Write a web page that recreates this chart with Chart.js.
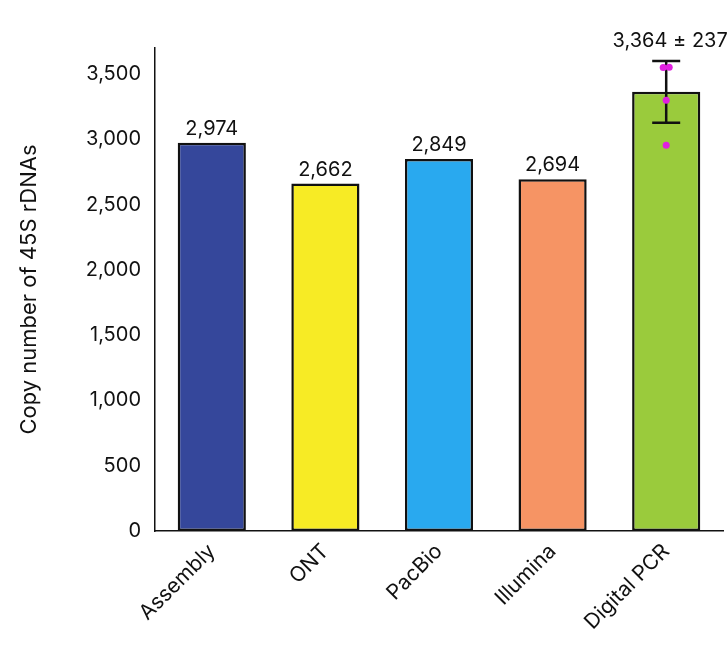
<!DOCTYPE html>
<html><head><meta charset="utf-8">
<script src="https://cdn.jsdelivr.net/npm/chart.js@4"></script>
<style>body{margin:0;background:#fff}#w{width:727px;height:663px}</style>
</head><body><div id="w"><canvas id="c"></canvas></div>
<script>
const categories=["Assembly","ONT","PacBio","Illumina","Digital PCR"];
const values=[2974,2662,2849,2694,3364];
const valueLabels=["2,974","2,662","2,849","2,694","3,364 ± 237"];
const colors=["#35479b","#f7eb25","#29a9ef","#f69464","#9acb3c"];
const pcrSd=237;
const pcrPoints=[3550,3552,3300,2955];
const pcrJitter=[-3,3,0,0];
const yTicks=[0,500,1000,1500,2000,2500,3000,3500];
const F="Inter, 'Noto Sans', sans-serif";
const extra={id:'extra',afterDatasetsDraw(ch){
 const c=ch.ctx,x=ch.scales.x,y=ch.scales.y;
 c.save();c.font="20px "+F;c.fillStyle="#111";c.textAlign="center";c.textBaseline="bottom";
 values.forEach((v,i)=>{let top=v; if(i===4) top=v+pcrSd; c.fillText(valueLabels[i],x.getPixelForValue(i)+(i===4?4:0),y.getPixelForValue(top)-(i===4?10:4));});
 const cx=x.getPixelForValue(4);
 c.strokeStyle="#111";c.lineWidth=2.5;c.beginPath();
 const t=y.getPixelForValue(values[4]+pcrSd),b=y.getPixelForValue(values[4]-pcrSd);
 c.moveTo(cx,t);c.lineTo(cx,b);c.moveTo(cx-14,t);c.lineTo(cx+14,t);c.moveTo(cx-14,b);c.lineTo(cx+14,b);c.stroke();
 c.fillStyle="#e020e0";
 pcrPoints.forEach((p,i)=>{c.beginPath();c.arc(cx+pcrJitter[i],y.getPixelForValue(p),3.5,0,7);c.fill();});
 c.restore();}};
new Chart(document.getElementById('c'),{type:'bar',
data:{labels:categories,datasets:[{data:values,backgroundColor:colors,borderColor:"#111",borderWidth:2.5,borderSkipped:false,barPercentage:0.6,categoryPercentage:1}]},
options:{responsive:true,maintainAspectRatio:false,animation:false,
layout:{padding:{top:48,right:4,left:12,bottom:0}},
plugins:{legend:{display:false},tooltip:{enabled:false}},
scales:{
 x:{grid:{display:false,drawTicks:false},border:{color:"#111",width:1.5},afterFit(s){s.height=132;},
  ticks:{color:"#111",font:{family:F,size:21},maxRotation:45,minRotation:45,padding:8}},
 y:{min:0,max:3700,afterBuildTicks(s){s.ticks=yTicks.map(v=>({value:v}));},afterFit(s){s.width=143;},
  grid:{display:false,drawTicks:true,tickLength:8,tickColor:"#111"},border:{color:"#111",width:1.5},
  title:{display:true,text:"Copy number of 45S rDNAs",color:"#111",font:{family:F,size:22}},
  ticks:{color:"#111",font:{family:F,size:20},padding:6,callback:v=>v.toLocaleString('en-US')}}
}},plugins:[extra]});
</script></body></html>
